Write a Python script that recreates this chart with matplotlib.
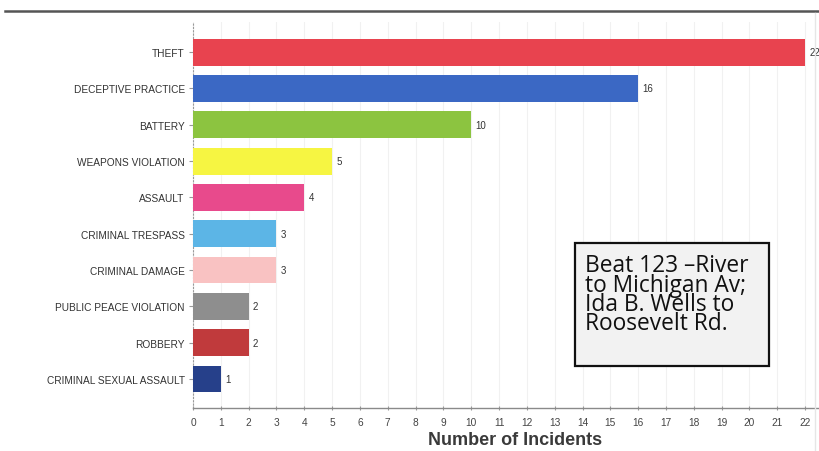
import matplotlib
matplotlib.use("Agg")
import matplotlib.pyplot as plt
from matplotlib.patches import Rectangle
from matplotlib.lines import Line2D

categories = [
    "THEFT", "DECEPTIVE PRACTICE", "BATTERY", "WEAPONS VIOLATION", "ASSAULT",
    "CRIMINAL TRESPASS", "CRIMINAL DAMAGE", "PUBLIC PEACE VIOLATION",
    "ROBBERY", "CRIMINAL SEXUAL ASSAULT",
]
incidents = [22, 16, 10, 5, 4, 3, 3, 2, 2, 1]
bar_colors = [
    "#e8434f", "#3b68c4", "#8cc440", "#f6f542", "#e84a8c",
    "#5cb5e6", "#f9c2c2", "#8e8e8e", "#c03a3c", "#26408a",
]
x_ticks = list(range(0, 23))
note_text = "Beat 123 \u2013River\nto Michigan Av;\nIda B. Wells to\nRoosevelt Rd."

plt.rcParams["font.family"] = ["Liberation Sans", "DejaVu Sans"]

fig = plt.figure(figsize=(8.2, 4.52), dpi=100)
ax = fig.add_axes([193 / 820, 43 / 452, 626 / 820, 386 / 452])

ypos = list(range(len(categories)))
ax.barh(ypos, incidents, height=0.74, color=bar_colors, edgecolor="none", zorder=3)

for y, v in zip(ypos, incidents):
    ax.text(v + 0.15, y, str(v), va="center", ha="left", fontsize=7,
            color="#333333", zorder=4)

ax.set_xlim(0, 22.5)
ax.set_ylim(len(categories) - 0.2, -0.83)
ax.set_yticks(ypos)
ax.set_yticklabels(categories, fontsize=7.3, color="#333333")
ax.set_xticks(x_ticks)
ax.set_xticklabels([str(t) for t in x_ticks], fontsize=7.3, color="#444444")

ax.grid(axis="x", color="#f1f1f1", linewidth=0.8, zorder=0)
for side in ("top", "right"):
    ax.spines[side].set_visible(False)
ax.spines["left"].set_color("#9a9a9a")
ax.spines["left"].set_linestyle((0, (1, 2)))
ax.spines["left"].set_linewidth(0.8)
ax.spines["bottom"].set_color("#8a8a8a")
ax.spines["bottom"].set_linewidth(1.0)
ax.tick_params(axis="y", length=3, color="#999999", pad=3)
ax.tick_params(axis="x", length=3, color="#999999", pad=5, direction="inout")

fig.text(515 / 820, 1 - 441 / 452, "Number of Incidents", ha="center", va="center",
         fontsize=13, fontweight="bold", color="#3a3a3a")

# header rule and page edge
fig.add_artist(Line2D([5 / 820, 1.0], [1 - 12 / 452, 1 - 12 / 452],
                      color="#555555", linewidth=1.8, transform=fig.transFigure))
fig.add_artist(Line2D([815 / 820, 815 / 820], [0, 1 - 14 / 452],
                      color="#e6e6e6", linewidth=1.0, transform=fig.transFigure))

# note box
fig.add_artist(Rectangle((575 / 820, 1 - 367 / 452), 194 / 820, 123 / 452,
                         transform=fig.transFigure, facecolor="#f2f2f2",
                         edgecolor="#111111", linewidth=1.6, zorder=5))
fig.text(585 / 820, 1 - 254 / 452, note_text, ha="left", va="top",
         fontsize=16.4, color="#111111", linespacing=0.75, zorder=6,
         family=["Open Sans", "DejaVu Sans"])

fig.savefig("out.png", dpi=100, facecolor="white")
